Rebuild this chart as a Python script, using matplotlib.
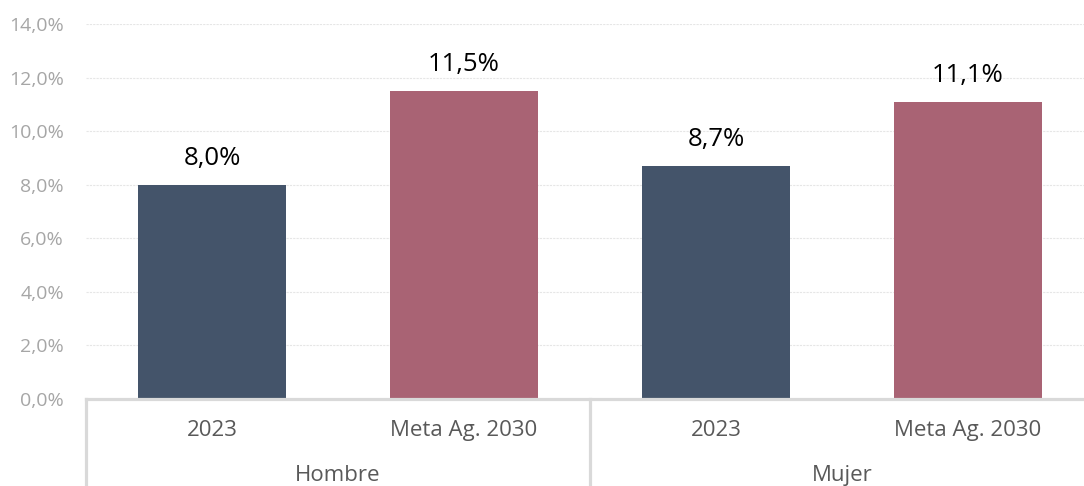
import matplotlib.pyplot as plt
import matplotlib.transforms as mtransforms

groups = ["Hombre", "Mujer"]
categories = ["2023", "Meta Ag. 2030", "2023", "Meta Ag. 2030"]
values = [8.0, 11.5, 8.7, 11.1]
colors = ["#44546A", "#A96374", "#44546A", "#A96374"]
yticks = [0, 2, 4, 6, 8, 10, 12, 14]

plt.rcParams['font.family'] = ['Open Sans', 'DejaVu Sans']

W, H = 1084, 486
fig = plt.figure(figsize=(W / 100, H / 100), dpi=100)
left, right, bottom, top = 86, 1094, 399, 24
ax = fig.add_axes([left / W, (H - bottom) / H, (right - left) / W, (bottom - top) / H])

x = list(range(len(values)))
bars = ax.bar(x, values, width=148 / 252, color=colors, zorder=3)
ax.set_xlim(-0.5, len(values) - 0.5)
ax.set_ylim(0, 14)
ax.set_yticks(yticks)
ax.set_yticklabels([f"{v:.1f}%".replace(".", ",") for v in yticks])
ax.tick_params(axis='y', length=0, pad=16, labelsize=14, labelcolor="#A6A6A6")
ax.set_xticks([])
for s in ax.spines.values():
    s.set_visible(False)
ax.grid(axis='y', color="#E6E6E6", linestyle=(0, (2, 1)), linewidth=0.8, zorder=0)

for xi, v in zip(x, values):
    ax.annotate(f"{v:.1f}%".replace(".", ","), (xi, v), xytext=(0, 14.5),
                textcoords='offset points', ha='center', va='baseline',
                fontsize=18.5, color="#000000")

trans = mtransforms.blended_transform_factory(ax.transData, ax.transAxes)
ybot = -(H - bottom) / (bottom - top)
sepcolor = "#D9D9D9"
ax.plot([-0.5, len(values) - 0.5], [0, 0], transform=trans, color=sepcolor, lw=2.3, clip_on=False, zorder=4)
for xs in [-0.5, 1.5, 3.5]:
    ax.plot([xs, xs], [0, ybot], transform=trans, color=sepcolor, lw=2.3, clip_on=False)

for xi, c in zip(x, categories):
    ax.text(xi, (399 - 436) / 375, c, transform=trans, ha='center', va='baseline',
            fontsize=16, color="#595959")
for gi, g in enumerate(groups):
    ax.text(gi * 2 + 0.5, (399 - 481) / 375, g, transform=trans, ha='center', va='baseline',
            fontsize=16, color="#595959")

fig.savefig("out.png", dpi=100)
